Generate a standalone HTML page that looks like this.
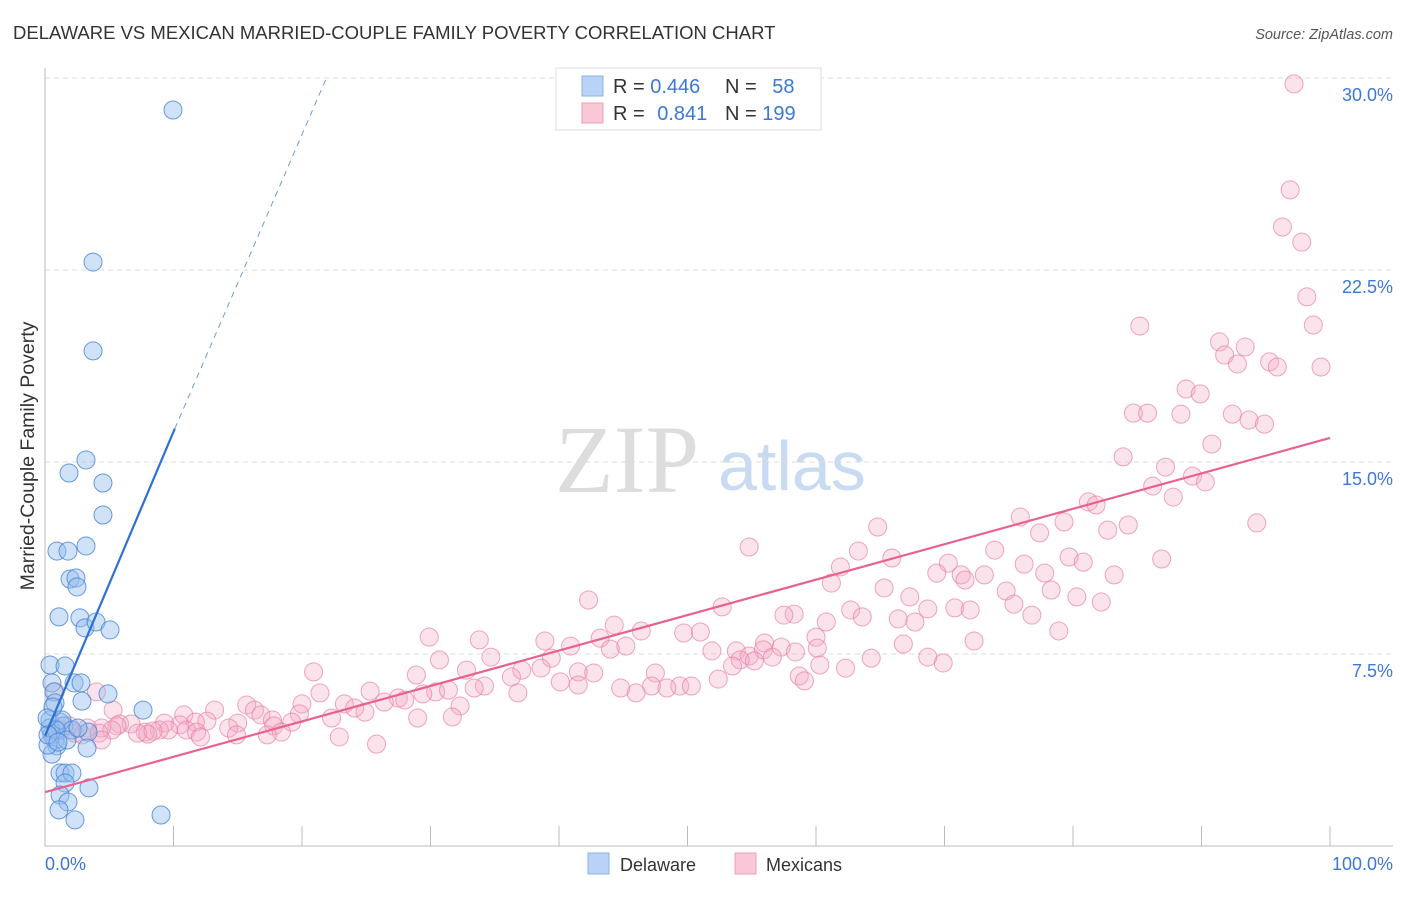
<!DOCTYPE html>
<html><head><meta charset="utf-8"><style>
body{margin:0;background:#fff;font-family:"Liberation Sans",sans-serif;}
svg text{font-family:"Liberation Sans",sans-serif;}
</style></head><body>
<svg id="chart" width="1406" height="892" xmlns="http://www.w3.org/2000/svg">
<text x="13" y="39" font-size="18.5" fill="#333">DELAWARE VS MEXICAN MARRIED-COUPLE FAMILY POVERTY CORRELATION CHART</text>
<text x="1393" y="39" font-size="14.5" fill="#555" font-style="italic" text-anchor="end">Source: ZipAtlas.com</text>
<text x="0" y="0" transform="translate(34,456) rotate(-90)" font-size="19.5" fill="#333" text-anchor="middle">Married-Couple Family Poverty</text>
<text x="555" y="492" font-size="96" fill="#ddd" style="font-family:'Liberation Serif',serif">ZIP</text>
<text x="718" y="490" font-size="70" fill="#c8dbf3">atlas</text>
<g id="grid"></g>
<g id="axes"></g>
<g id="marks"></g>
<g>
<rect x="556" y="68" width="265" height="62" fill="#fff" stroke="#ddd"/>
<rect x="582" y="76" width="21" height="20" fill="#b8d3f6" stroke="#8ab2e6"/>
<rect x="582" y="103" width="21" height="20" fill="#f9c7d6" stroke="#eea0ba"/>
<text x="613" y="93" font-size="20" fill="#333">R = <tspan fill="#3b78d8">0.446</tspan></text>
<text x="725" y="93" font-size="20" fill="#333">N = <tspan fill="#3b78d8" dx="10">58</tspan></text>
<text x="613" y="120" font-size="20" fill="#333">R = <tspan fill="#3b78d8" dx="7">0.841</tspan></text>
<text x="725" y="120" font-size="20" fill="#333">N = <tspan fill="#3b78d8">199</tspan></text>
</g>
<g>
<rect x="588" y="853" width="21" height="21" fill="#b8d3f6" stroke="#8ab2e6"/>
<text x="620" y="871" font-size="18" fill="#333">Delaware</text>
<rect x="735" y="853" width="21" height="21" fill="#f9c7d6" stroke="#eea0ba"/>
<text x="766" y="871" font-size="18" fill="#333">Mexicans</text>
</g>
<text x="45" y="870" font-size="18" fill="#3b78d8">0.0%</text>
<text x="1393" y="870" font-size="18" fill="#3b78d8" text-anchor="end">100.0%</text>
</svg>
<script>
const yTicks=[7.5,15,22.5,30];
const yTickLabels=["7.5%","15.0%","22.5%","30.0%"];
const blueX=[9.96,3.74,3.74,1.87,3.19,4.51,4.51,0.93,1.79,3.19,1.95,2.41,2.49,1.09,2.72,3.11,3.97,5.06,0.39,1.56,0.54,2.26,2.80,0.70,4.90,2.88,0.78,7.63,0.39,1.17,1.48,0.54,0.78,0.93,3.35,0.54,3.27,1.17,1.56,2.10,1.56,3.42,1.17,1.79,1.09,2.33,9.03,0.23,0.39,1.32,2.1,0.86,0.23,0.62,1.71,1.01,2.57,0.16];
const blueY=[28.75,22.81,19.34,14.57,15.08,14.18,12.93,11.52,11.52,11.72,10.43,10.47,10.12,8.95,8.91,8.52,8.75,8.44,7.07,7.03,6.37,6.37,6.37,6.02,5.94,5.66,5.59,5.31,4.92,4.84,4.69,4.34,4.14,3.91,4.45,3.59,3.83,2.85,2.85,2.85,2.46,2.27,1.99,1.72,1.41,1.02,1.21,3.94,4.61,4.92,4.53,4.53,4.34,5.43,4.14,4.06,4.61,5.0];
const pinkX=[97.2,96.9,96.3,97.8,98.2,98.7,85.2,91.4,91.8,93.4,92.8,95.3,95.9,99.3,88.8,89.9,84.7,85.8,88.4,92.4,93.7,94.9,90.8,83.9,87.2,86.2,89.3,90.3,87.8,81.2,81.8,79.3,75.9,84.3,82.7,94.3,77.4,64.8,54.8,63.3,65.9,73.9,79.7,86.9,80.8,76.2,70.3,61.9,69.4,71.3,73.1,77.8,83.2,61.2,71.6,74.8,65.3,78.3,75.4,82.2,80.3,67.3,68.7,70.8,62.7,58.3,57.5,52.7,42.3,63.6,66.4,72.0,60.8,67.7,76.8,78.9,49.7,51.0,46.4,44.3,29.9,33.8,38.9,43.2,60.0,72.3,66.8,56.0,57.3,53.8,51.9,40.9,44.0,45.2,30.7,34.7,39.4,55.9,58.4,60.1,54.8,54.1,55.2,68.7,56.6,64.3,69.9,20.9,28.9,32.8,37.1,38.6,41.5,42.7,47.5,60.3,62.3,36.3,53.5,58.7,59.1,52.4,34.2,33.4,41.5,40.1,47.2,49.4,50.3,48.4,46.0,44.8,30.4,31.4,25.3,29.4,36.8,27.5,21.4,28.0,23.3,26.4,32.3,20.0,15.7,16.3,24.1,24.9,19.8,13.2,5.3,10.8,16.8,22.3,29.0,17.7,15.0,12.6,31.7,19.2,11.7,17.8,10.5,9.3,5.8,6.7,5.6,4.4,3.3,1.9,14.3,11.0,18.4,9.6,8.9,7.8,11.8,8.0,14.9,12.1,7.2,8.4,5.2,2.3,1.2,0.5,2.9,4.2,4.4,17.3,22.9,25.8,4.0,0.8];
const pinkY=[29.77,25.63,24.18,23.59,21.45,20.35,20.31,19.69,19.18,19.49,18.83,18.91,18.71,18.71,17.85,17.66,16.91,16.91,16.87,16.87,16.64,16.48,15.70,15.20,14.80,14.06,14.45,14.22,13.63,13.44,13.32,12.66,12.85,12.54,12.34,12.62,12.23,12.46,11.68,11.52,11.25,11.56,11.29,11.21,11.09,11.01,11.05,10.90,10.66,10.59,10.59,10.66,10.59,10.27,10.39,9.96,10.08,10.00,9.45,9.53,9.73,9.73,9.26,9.30,9.22,9.06,9.02,9.34,9.61,8.95,8.87,9.22,8.75,8.75,9.02,8.40,8.32,8.36,8.40,8.63,8.16,8.05,8.01,8.12,8.16,8.01,7.89,7.93,7.77,7.62,7.62,7.81,7.69,7.81,7.27,7.38,7.34,7.66,7.58,7.73,7.42,7.27,7.23,7.38,7.38,7.34,7.15,6.80,6.68,6.87,6.87,6.95,6.80,6.76,6.76,7.07,6.95,6.60,7.03,6.64,6.45,6.52,6.25,6.17,6.29,6.41,6.25,6.25,6.25,6.17,5.98,6.17,6.02,6.09,6.05,5.94,5.98,5.78,5.98,5.70,5.55,5.62,5.47,5.55,5.51,5.31,5.39,5.23,5.16,5.31,5.31,5.12,5.12,5.00,5.00,4.92,4.80,4.88,5.04,4.84,4.84,4.69,4.73,4.80,4.77,4.77,4.69,4.61,4.61,4.69,4.61,4.53,4.45,4.53,4.53,4.45,4.45,4.37,4.34,4.26,4.41,4.49,4.53,4.41,4.53,4.45,4.34,4.41,4.14,4.34,4.26,3.98,6.02,6.02];
const blueTrend=[0,4.3,10.1,16.3,21.9,30];
const pinkTrend=[0,2.1,100,15.94];
const NS='http://www.w3.org/2000/svg';
const sx=v=>45+v*12.85, sy=v=>846-v*25.6;
function mk(tag,attrs,parent){const e=document.createElementNS(NS,tag);for(const k in attrs)e.setAttribute(k,attrs[k]);parent.appendChild(e);return e;}
const grid=document.getElementById('grid'),axes=document.getElementById('axes'),marks=document.getElementById('marks');
yTicks.forEach((t,i)=>{
 const l=mk('line',{x1:45,x2:1393,y1:sy(t),y2:sy(t),stroke:'#ddd','stroke-dasharray':'5,4'},grid);
 
 
 const tx=mk('text',{x:1393,y:sy(t)+23,'font-size':18,fill:'#3b78d8','text-anchor':'end'},grid);
 tx.textContent=yTickLabels[i];
 
 
});
const ax=mk('path',{d:'M45,68 V846 H1393',fill:'none',stroke:'#bbb'},axes);


for(let i=1;i<=10;i++){const t=mk('line',{x1:sx(i*10),x2:sx(i*10),y1:826,y2:846,stroke:'#bbb'},axes);
 
 }
pinkX.forEach((x,i)=>{const c=mk('circle',{cx:sx(x),cy:sy(pinkY[i]),r:9,fill:'rgba(244,170,196,0.33)',stroke:'rgba(232,128,162,0.7)','stroke-width':1},marks);
 
 });
blueX.forEach((x,i)=>{const c=mk('circle',{cx:sx(x),cy:sy(blueY[i]),r:9,fill:'rgba(150,190,238,0.45)',stroke:'rgba(70,130,215,0.8)','stroke-width':1},marks);
 
 });
const bl=mk('line',{x1:sx(blueTrend[0]),y1:sy(blueTrend[1]),x2:sx(blueTrend[2]),y2:sy(blueTrend[3]),stroke:'#2f6fd6','stroke-width':2.2},marks);


const bd=mk('line',{x1:sx(blueTrend[2]),y1:sy(blueTrend[3]),x2:sx(blueTrend[4]),y2:sy(blueTrend[5]),stroke:'#6a9be0','stroke-width':1,'stroke-dasharray':'6,5'},marks);


const pl=mk('line',{x1:sx(pinkTrend[0]),y1:sy(pinkTrend[1]),x2:sx(pinkTrend[2]),y2:sy(pinkTrend[3]),stroke:'#e8628e','stroke-width':2.2},marks);


</script>
</body></html>
